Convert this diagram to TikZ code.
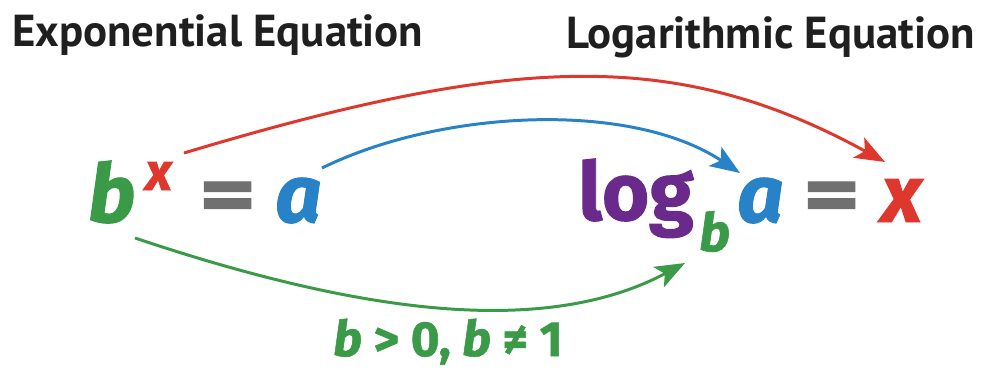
\documentclass[tikz,border=0pt]{standalone}
\usepackage{fontspec}
\usepackage{graphicx}
\setmainfont{PT Sans}
\newfontfamily\eqfont[BoldFeatures={FakeBold=1.2},BoldItalicFeatures={FakeBold=1.2}]{Fira Sans}
\usetikzlibrary{arrows.meta}
\definecolor{eqred}{RGB}{222,56,46}
\definecolor{eqblue}{RGB}{40,130,200}
\definecolor{eqgreen}{RGB}{58,154,72}
\definecolor{eqpurple}{RGB}{106,42,140}
\definecolor{eqgray}{RGB}{112,112,112}
\newcommand{\wideeq}{\scalebox{1.35}[1]{=}}

\begin{document}
\begin{tikzpicture}[x=0.02cm,y=-0.02cm,
	arc/.style={line width=1.7pt, -{Stealth[length=17pt,width=13pt,inset=4pt]}},
	hdr/.style={inner sep=0pt, text=black!88, font=\fontsize{25.5}{26}\selectfont\bfseries},
	sym/.style={anchor=base west, inner sep=0pt},
	big/.style={font=\eqfont\fontsize{46}{46}\selectfont\bfseries\itshape},
	bigup/.style={font=\eqfont\fontsize{46}{46}\selectfont\bfseries},
	small/.style={font=\eqfont\fontsize{30}{30}\selectfont\bfseries\itshape}]

	\useasboundingbox (0,0) rectangle (982,369);

	% Headers
	\node[hdr, anchor=base west] (exphdr) at (12,46) {Exponential Equation};
	\node[hdr, anchor=base east] (loghdr) at (975,48) {Logarithmic Equation};

	% Exponential form
	\node[sym, big, text=eqgreen] (b) at (88,222) {b};
	\node[sym, small, text=eqred] (x) at (145,190) {x};
	\node[sym, bigup, text=eqgray] (eq) at (199,222) {\wideeq};
	\node[sym, big, text=eqblue] (a) at (275,222) {a};

	% Logarithmic form
	\node[sym, bigup, text=eqpurple] (log) at (578,220) {log};
	\node[sym, small, text=eqgreen] (sub) at (699,251) {b};
	\node[sym, big, text=eqblue] (la) at (737,222) {a};
	\node[sym, bigup, text=eqgray] (leq) at (803,222) {\wideeq};
	\node[sym, big, text=eqred] (lx) at (881,222) {x};

	% Condition
	\node[sym, text=eqgreen, font=\eqfont\fontsize{28}{28}\selectfont\bfseries] (cond) at (333,356)
		{\textit{b} > 0, \textit{b} ≠ 1};

	% Ends of the arcs
	\coordinate (redfrom) at (184,153);
	\coordinate (redto) at (885,162);
	\coordinate (bluefrom) at (322,168);
	\coordinate (blueto) at (740,173);
	\coordinate (greenfrom) at (135,238);
	\coordinate (greento) at (685,263);

	% Arcs
	\draw[arc, eqred] (redfrom) .. controls (520,52) and (680,50) .. (redto);
	\draw[arc, eqblue] (bluefrom) .. controls (440,110) and (630,100) .. (blueto);
	\draw[arc, eqgreen] (greenfrom) .. controls (350,310) and (540,340) .. (greento);

\end{tikzpicture}
\end{document}
